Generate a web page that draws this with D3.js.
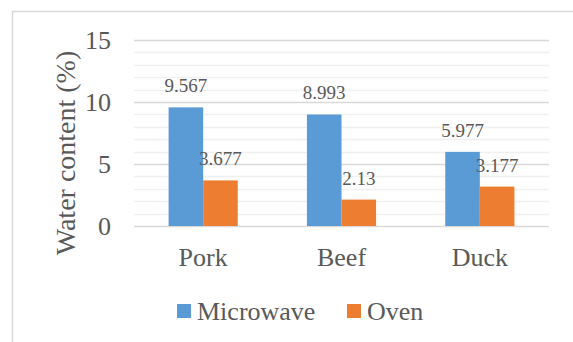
<!DOCTYPE html>
<html>
<head>
<meta charset="utf-8">
<script src="https://cdn.jsdelivr.net/npm/d3@7"></script>
</head>
<body style="margin:0;background:#fff">
<svg id="chart" width="573" height="342" style="display:block"></svg>
<script>
const categories = ["Pork", "Beef", "Duck"];
const seriesNames = ["Microwave", "Oven"];
const microwave = [9.567, 8.993, 5.977];
const oven = [3.677, 2.13, 3.177];
const yTicks = [0, 5, 10, 15];
const yTitle = "Water content (%)";
const colors = ["#5B9BD5", "#ED7D31"];

const values = [microwave, oven];
const svg = d3.select("#chart");
const serifFont = "'Times'";

// frame
svg.append("rect").attr("x", 12.5).attr("y", 11.5).attr("width", 700).attr("height", 500)
  .attr("fill", "none").attr("stroke", "#d9d9d9").attr("stroke-width", 1.5);

const plot = { left: 134, right: 549, top: 40, bottom: 226 };
const y = d3.scaleLinear().domain([0, 15]).range([plot.bottom, plot.top]);
const x0 = d3.scaleBand().domain(categories).range([plot.left, plot.right]).padding(0);
const bw = x0.bandwidth();
const x1 = d3.scaleBand().domain(seriesNames).range([bw * 0.25, bw * 0.75]).padding(0);

// minor gridlines
svg.append("g").selectAll("line").data(d3.range(0, 16, 1).filter(v => v % 5 !== 0)).join("line")
  .attr("x1", plot.left).attr("x2", plot.right)
  .attr("y1", d => Math.round(y(d)) + 0.5).attr("y2", d => Math.round(y(d)) + 0.5)
  .attr("stroke", "#f0f0f0").attr("stroke-width", 1.5);
// major gridlines
svg.append("g").selectAll("line").data(yTicks).join("line")
  .attr("x1", plot.left).attr("x2", plot.right)
  .attr("y1", d => Math.round(y(d)) + 0.5).attr("y2", d => Math.round(y(d)) + 0.5)
  .attr("stroke", "#d9d9d9").attr("stroke-width", 1.5);

// bars
const groups = svg.append("g").selectAll("g").data(categories).join("g")
  .attr("transform", d => `translate(${x0(d)},0)`);
groups.selectAll("rect").data((c, i) => seriesNames.map((s, j) => ({ s, j, v: values[j][i] })))
  .join("rect")
  .attr("x", d => x1(d.s)).attr("width", x1.bandwidth())
  .attr("y", d => y(d.v)).attr("height", d => y(0) - y(d.v))
  .attr("fill", d => colors[d.j]);
groups.selectAll("text.lbl").data((c, i) => seriesNames.map((s, j) => ({ s, j, v: values[j][i] })))
  .join("text").attr("class", "lbl")
  .attr("x", d => x1(d.s) + x1.bandwidth() / 2)
  .attr("y", d => y(d.v) - 15)
  .attr("text-anchor", "middle")
  .style("font-size", "19px")
  .text(d => String(d.v));

// y axis
const yAxis = svg.append("g").attr("transform", `translate(${plot.left},0)`)
  .call(d3.axisLeft(y).tickValues(yTicks).tickSize(0).tickPadding(23).tickFormat(d3.format("d")));
yAxis.select(".domain").remove();
yAxis.selectAll("text").style("font-size", "26px");

// x axis
const xAxis = svg.append("g").attr("transform", `translate(0,${plot.bottom})`)
  .call(d3.axisBottom(x0).tickSize(0).tickPadding(22));
xAxis.select(".domain").remove();
xAxis.selectAll("text").style("font-size", "26px");

// y title
svg.append("text").attr("transform", "translate(75,153) rotate(-90)")
  .attr("text-anchor", "middle").style("font-size", "28px").text(yTitle);

// legend
const legendX = [177, 347];
const leg = svg.append("g").selectAll("g").data(seriesNames).join("g")
  .attr("transform", (d, i) => `translate(${legendX[i]},304)`);
leg.append("rect").attr("width", 14).attr("height", 14).attr("fill", (d, i) => colors[i]);
leg.append("text").attr("x", 20).attr("y", 16).style("font-size", "26px").text(d => d);

svg.selectAll("g").attr("font-family", null);
svg.selectAll("text").style("font-family", serifFont).style("fill", "#595959");
</script>
</body>
</html>
